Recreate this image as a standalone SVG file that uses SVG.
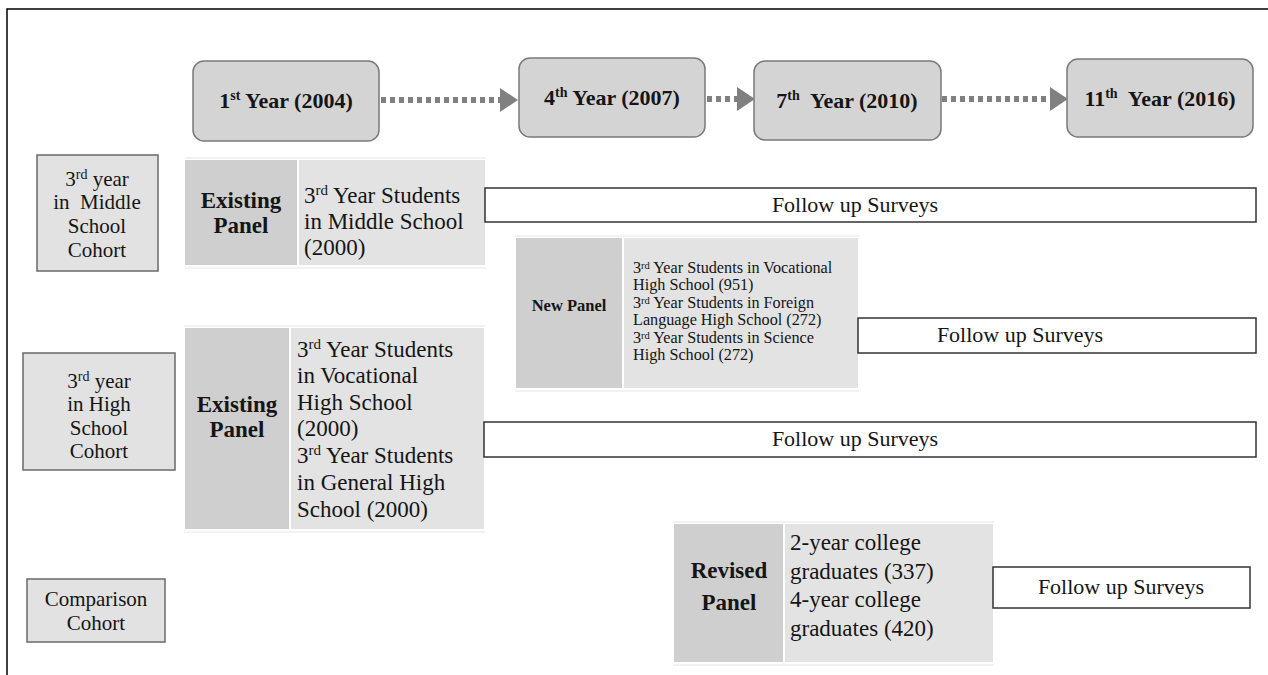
<svg xmlns="http://www.w3.org/2000/svg" width="1268" height="675" viewBox="0 0 1268 675">
<defs>
<style>
text{font-family:"Liberation Serif","Times New Roman",serif;fill:#151515;}
.yr{fill:#d4d4d4;stroke:#7a7a7a;stroke-width:1.5;}
.yt{font-size:22px;font-weight:bold;text-anchor:middle;}
.coh{fill:#e2e2e2;stroke:#6a6a6a;stroke-width:1.5;}
.ct{font-size:21px;text-anchor:middle;}
.dk{fill:#cfcfcf;}
.lt{fill:#e3e3e3;}
.pb{font-size:23px;font-weight:bold;text-anchor:middle;}
.pt{font-size:23px;}
.np{font-size:16.2px;}
.fu{fill:#fff;stroke:#333;stroke-width:1.5;}
.ft{font-size:22px;text-anchor:middle;}
.dash{stroke:#808080;stroke-width:6;stroke-dasharray:5 4;fill:none;}
.sep{stroke:#f2f2f2;stroke-width:2;}
</style>
<marker id="ah" markerWidth="4" markerHeight="4" refX="0" refY="2" orient="auto" markerUnits="strokeWidth">
<path d="M0,0 L3,2 L0,4 Z" fill="#808080"/>
</marker>
</defs>
<rect width="1268" height="675" fill="#fff"/>
<path d="M7,675 V9 H1268" fill="none" stroke="#000" stroke-width="1.5"/>

<g id="connectors">
<line class="dash" x1="381" y1="100" x2="500" y2="100" marker-end="url(#ah)"/>
<line class="dash" x1="707" y1="99" x2="737" y2="99" marker-end="url(#ah)"/>
<line class="dash" x1="942" y1="99" x2="1050" y2="99" marker-end="url(#ah)"/>
</g>

<g id="year1"><rect class="yr" x="193" y="61" width="186" height="80" rx="11"/>
<text class="yt" x="286" y="108">1<tspan font-size="14" dy="-8">st</tspan><tspan dy="8"> Year (2004)</tspan></text></g>
<g id="year2"><rect class="yr" x="519" y="58" width="186" height="79" rx="11"/>
<text class="yt" x="612" y="105">4<tspan font-size="14" dy="-8">th</tspan><tspan dy="8"> Year (2007)</tspan></text></g>
<g id="year3"><rect class="yr" x="754" y="61" width="187" height="79" rx="11"/>
<text class="yt" x="847" y="108" xml:space="preserve">7<tspan font-size="14" dy="-8">th</tspan><tspan dy="8">  Year (2010)</tspan></text></g>
<g id="year4"><rect class="yr" x="1067" y="59" width="186" height="78" rx="11"/>
<text class="yt" x="1160" y="106" xml:space="preserve">11<tspan font-size="14" dy="-8">th</tspan><tspan dy="8">  Year (2016)</tspan></text></g>

<g id="cohort-middle"><rect class="coh" x="37" y="155" width="121" height="116"/>
<text class="ct" x="97" y="186">3<tspan font-size="14" dy="-7">rd</tspan><tspan dy="7"> year</tspan></text>
<text class="ct" x="97" y="209" xml:space="preserve">in  Middle</text>
<text class="ct" x="97" y="233">School</text>
<text class="ct" x="97" y="257">Cohort</text></g>

<g id="cohort-high"><rect class="coh" x="23" y="353" width="152" height="117"/>
<text class="ct" x="99" y="388">3<tspan font-size="14" dy="-7">rd</tspan><tspan dy="7"> year</tspan></text>
<text class="ct" x="99" y="411">in High</text>
<text class="ct" x="99" y="435">School</text>
<text class="ct" x="99" y="458">Cohort</text></g>

<g id="cohort-comparison"><rect class="coh" x="27" y="579" width="138" height="63"/>
<text class="ct" x="96" y="606">Comparison</text>
<text class="ct" x="96" y="630">Cohort</text></g>

<g id="panel-existing-middle">
<line class="sep" x1="185" y1="158" x2="486" y2="158"/>
<line class="sep" x1="185" y1="268" x2="486" y2="268"/>
<rect class="dk" x="185" y="160" width="112" height="105"/>
<rect class="lt" x="299" y="160" width="186" height="105"/>
<text class="pb" x="241" y="208">Existing</text>
<text class="pb" x="241" y="233">Panel</text>
<text class="pt" x="304" y="203">3<tspan font-size="15" dy="-8">rd</tspan><tspan dy="8"> Year Students</tspan></text>
<text class="pt" x="304" y="229">in Middle School</text>
<text class="pt" x="304" y="255">(2000)</text>
</g>
<g id="followup-1"><rect class="fu" x="485" y="188" width="771" height="34"/>
<text class="ft" x="855" y="212">Follow up Surveys</text></g>

<g id="panel-new">
<line class="sep" x1="515" y1="236" x2="859" y2="236"/>
<line class="sep" x1="515" y1="391" x2="859" y2="391"/>
<rect class="dk" x="516" y="238" width="106" height="150"/>
<rect class="lt" x="624" y="238" width="234" height="150"/>
<text x="569" y="311" font-size="16.5" font-weight="bold" text-anchor="middle">New Panel</text>
<text class="np" x="633" y="273">3<tspan font-size="10.5" dy="-4">rd</tspan><tspan dy="4"> Year Students in Vocational</tspan></text>
<text class="np" x="633" y="290">High School (951)</text>
<text class="np" x="633" y="307.5">3<tspan font-size="10.5" dy="-4">rd</tspan><tspan dy="4"> Year Students in Foreign</tspan></text>
<text class="np" x="633" y="325">Language High School (272)</text>
<text class="np" x="633" y="342.5">3<tspan font-size="10.5" dy="-4">rd</tspan><tspan dy="4"> Year Students in Science</tspan></text>
<text class="np" x="633" y="360">High School (272)</text>
</g>
<g id="followup-2"><rect class="fu" x="858" y="318" width="398" height="35"/>
<text class="ft" x="1020" y="342">Follow up Surveys</text></g>

<g id="panel-existing-high">
<line class="sep" x1="184" y1="326" x2="485" y2="326"/>
<line class="sep" x1="184" y1="532" x2="485" y2="532"/>
<rect class="dk" x="185" y="328" width="104" height="201"/>
<rect class="lt" x="291" y="328" width="193" height="201"/>
<text class="pb" x="237" y="412">Existing</text>
<text class="pb" x="237" y="437">Panel</text>
<text class="pt" x="297" y="357">3<tspan font-size="15" dy="-8">rd</tspan><tspan dy="8"> Year Students</tspan></text>
<text class="pt" x="297" y="383">in Vocational</text>
<text class="pt" x="297" y="410">High School</text>
<text class="pt" x="297" y="436">(2000)</text>
<text class="pt" x="297" y="463">3<tspan font-size="15" dy="-8">rd</tspan><tspan dy="8"> Year Students</tspan></text>
<text class="pt" x="297" y="490">in General High</text>
<text class="pt" x="297" y="517">School (2000)</text>
</g>
<g id="followup-3"><rect class="fu" x="484" y="422" width="772" height="35"/>
<text class="ft" x="855" y="446">Follow up Surveys</text></g>

<g id="panel-revised">
<line class="sep" x1="673" y1="522" x2="994" y2="522"/>
<line class="sep" x1="673" y1="665" x2="994" y2="665"/>
<rect class="dk" x="674" y="524" width="109" height="138"/>
<rect class="lt" x="785" y="524" width="208" height="138"/>
<text class="pb" x="729" y="578">Revised</text>
<text class="pb" x="729" y="610">Panel</text>
<text class="pt" x="790" y="550">2-year college</text>
<text class="pt" x="790" y="579">graduates (337)</text>
<text class="pt" x="790" y="607">4-year college</text>
<text class="pt" x="790" y="636">graduates (420)</text>
</g>
<g id="followup-4"><rect class="fu" x="993" y="567" width="257" height="41"/>
<text class="ft" x="1121" y="594">Follow up Surveys</text></g>
</svg>
